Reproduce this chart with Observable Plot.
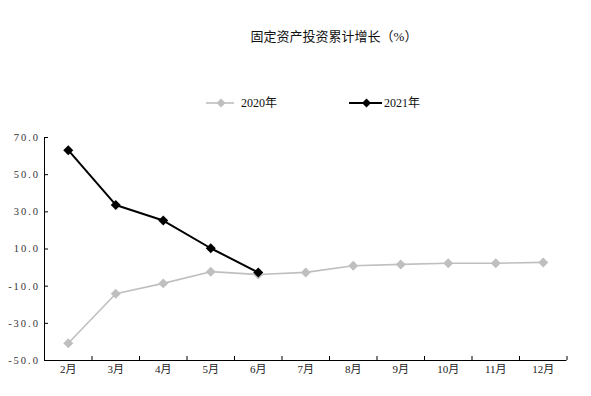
<!DOCTYPE html>
<html>
<head>
<meta charset="utf-8">
<script src="https://cdn.jsdelivr.net/npm/d3@7"></script>
<script src="https://cdn.jsdelivr.net/npm/@observablehq/plot@0.6"></script>
<style>
  body { margin: 0; background: #fff; }
  #wrap { position: relative; width: 591px; height: 396px; font-family: "Liberation Serif", "Noto Sans CJK SC", serif; color: #000; }
  #chart { position: absolute; left: 0; top: 0; }
  #chart g[aria-label="y-axis tick label"] text { letter-spacing: 2px; }
  #title { position: absolute; top: 26px; left: 334px; transform: translateX(-50%); font-size: 13px; white-space: nowrap; color: #111; }
  .leg { position: absolute; top: 95px; height: 16px; line-height: 16px; font-size: 12px; display: flex; align-items: center; white-space: nowrap; color: #111; }
  .leg svg { display: block; }
</style>
</head>
<body>
<div id="wrap">
  <div id="chart"></div>
  <div id="title">固定资产投资累计增长（%）</div>
  <div id="legend"></div>
</div>
<script>
// ---- data ----
const months = ["2月", "3月", "4月", "5月", "6月", "7月", "8月", "9月", "10月", "11月", "12月"];
const values2020 = [-40.7, -14.1, -8.5, -2.2, -3.7, -2.6, 1.0, 1.7, 2.3, 2.3, 2.8];
const values2021 = [63.2, 33.7, 25.3, 10.4, -2.6];
const yTicks = [-50, -30, -10, 10, 30, 50, 70];
const seriesNames = ["2020年", "2021年"];

// ---- layout / style ----
const W = 591, H = 396;
const mL = 44, mR = 24.5, mT = 137, mB = 36;
const plotW = W - mL - mR, plotH = H - mT - mB;
const FONT = '"Liberation Serif", "Noto Sans CJK SC", serif';
const styles = [
  { color: "#bfbfbf", width: 1.6, legendLeft: 206, lineLen: 28, gap: 7 },
  { color: "#000000", width: 2, legendLeft: 349, lineLen: 33, gap: 2 }
];

const d2020 = values2020.map((v, i) => ({ i, v }));
const d2021 = values2021.map((v, i) => ({ i, v }));
const bounds = d3.range(months.length + 1).map(k => k - 0.5);

const chart = Plot.plot({
  width: W,
  height: H,
  marginLeft: mL,
  marginRight: mR,
  marginTop: mT,
  marginBottom: mB,
  style: { fontFamily: FONT, fontSize: "11px", color: "#000", background: "#fff" },
  x: { domain: [-0.5, months.length - 0.5] },
  y: { domain: [-50, 70] },
  marks: [
    Plot.axisY({ ticks: yTicks, tickSize: 0, tickPadding: 4.5, tickFormat: d => d.toFixed(1), label: null, fontSize: 10.5, fill: "#333" }),
    Plot.tickY(yTicks, { y: d => d, insetRight: plotW - 4, stroke: "#000" }),
    Plot.axisX({ ticks: d3.range(months.length), tickSize: 0, tickPadding: 5, tickFormat: i => months[i], label: null, fill: "#222" }),
    Plot.tickX(bounds, { x: d => d, insetTop: plotH - 4, stroke: "#000" }),
    Plot.ruleX([-0.5], { stroke: "#000" }),
    Plot.ruleY([-50], { stroke: "#000" }),
    Plot.line(d2020, { x: "i", y: "v", stroke: styles[0].color, strokeWidth: styles[0].width }),
    Plot.dot(d2020, { x: "i", y: "v", symbol: "diamond2", r: 4.5, fill: styles[0].color }),
    Plot.line(d2021, { x: "i", y: "v", stroke: styles[1].color, strokeWidth: styles[1].width }),
    Plot.dot(d2021, { x: "i", y: "v", symbol: "diamond2", r: 4.5, fill: styles[1].color })
  ]
});
document.getElementById("chart").appendChild(chart);

// legend
const legend = document.getElementById("legend");
seriesNames.forEach((name, k) => {
  const s = styles[k];
  const item = document.createElement("div");
  item.className = "leg";
  item.style.left = s.legendLeft + "px";
  const c = s.lineLen / 2 + 1;
  item.innerHTML =
    `<svg width="${s.lineLen}" height="12" style="margin-right:${s.gap}px">
       <line x1="0" x2="${s.lineLen}" y1="6" y2="6" stroke="${s.color}" stroke-width="${s.width}"/>
       <path d="M${c},1.5 L${c + 4.5},6 L${c},10.5 L${c - 4.5},6 Z" fill="${s.color}"/>
     </svg><span>${name}</span>`;
  legend.appendChild(item);
});
</script>
</body>
</html>
